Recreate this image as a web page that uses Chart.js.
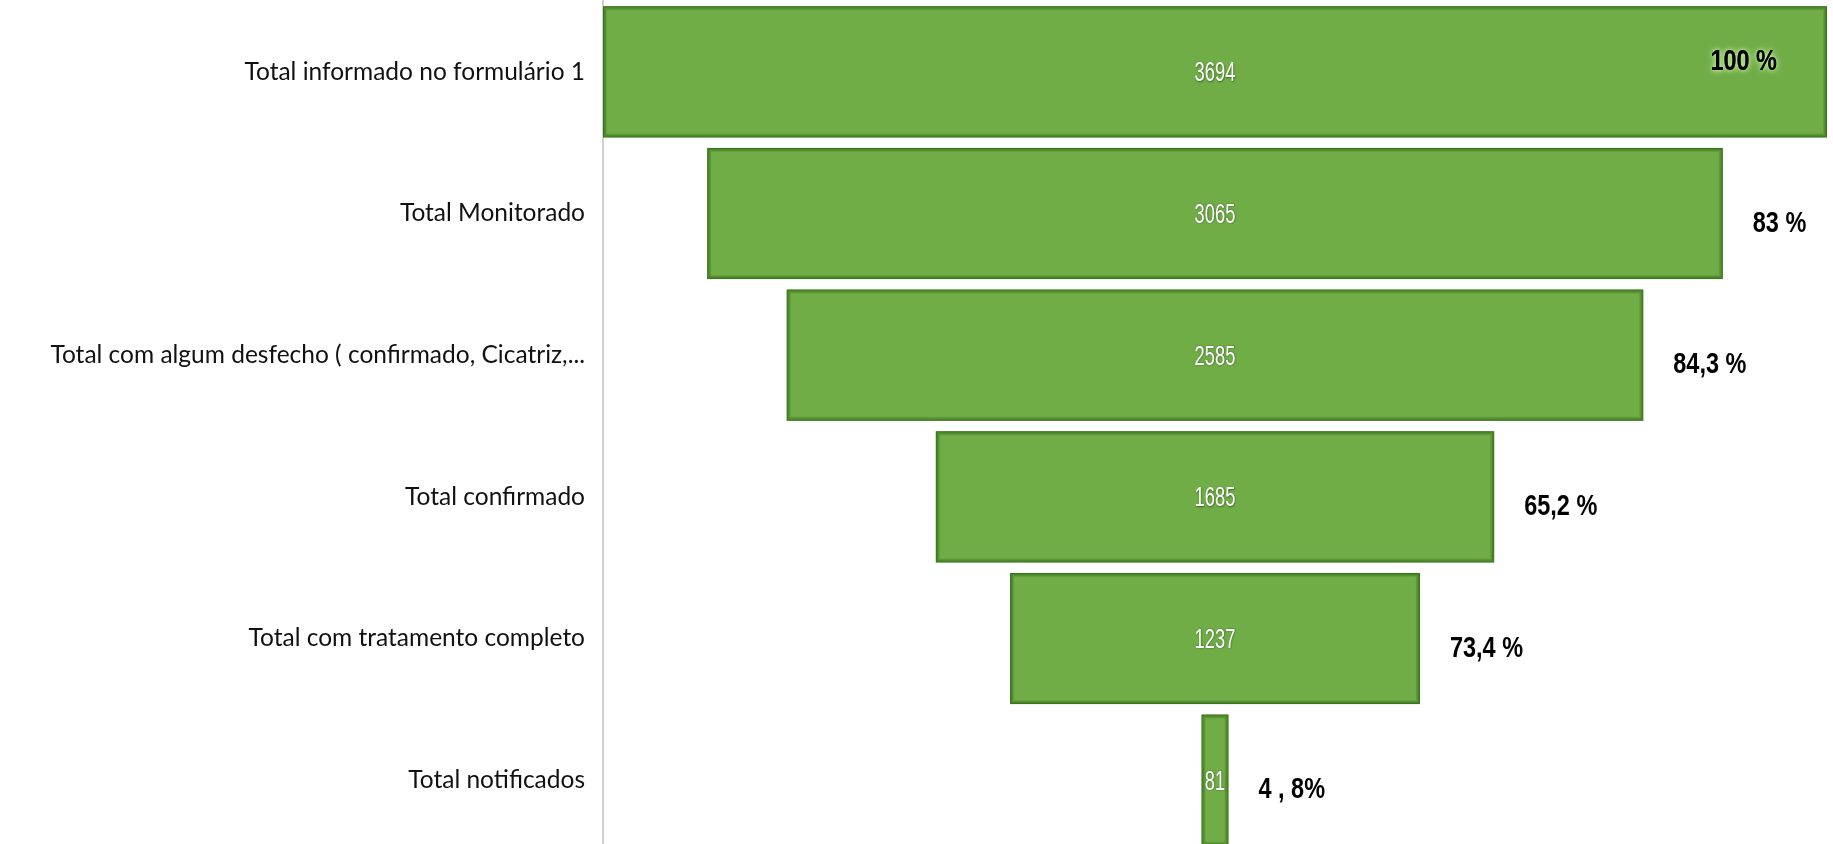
<!DOCTYPE html>
<html><head><meta charset="utf-8">
<script src="https://cdn.jsdelivr.net/npm/chart.js@4.4.1/dist/chart.umd.min.js"></script>
<style>
html,body{margin:0;padding:0;background:#fff;overflow:hidden;width:1833px;height:844px}
#wrap{position:relative;width:1833px;height:851px}
canvas{display:block}
</style></head>
<body><div id="wrap"><canvas id="c" width="1833" height="851"></canvas></div>
<script>
const categories = [
  "Total informado no formulário 1",
  "Total Monitorado",
  "Total com algum desfecho ( confirmado, Cicatriz,...",
  "Total confirmado",
  "Total com tratamento completo",
  "Total notificados"
];
const values = [3694, 3065, 2585, 1685, 1237, 81];
const percentLabels = ["100 %", "83 %", "84,3 %", "65,2 %", "73,4 %", "4 , 8%"];

const maxValue = Math.max(...values);
const ranges = values.map(v => [(maxValue - v) / 2, (maxValue + v) / 2]);

function condensedText(ctx, text, x, y, sx, align) {
  ctx.save();
  ctx.translate(x, y);
  ctx.scale(sx, 1);
  ctx.textAlign = align;
  ctx.fillText(text, 0, 0);
  ctx.restore();
}

const funnelDecor = {
  id: 'funnelDecor',
  afterDatasetsDraw(chart) {
    const ctx = chart.ctx;
    const meta = chart.getDatasetMeta(0);
    meta.data.forEach((el, i) => {
      const p = el.getProps(['x', 'y', 'base', 'height'], true);
      const l = Math.min(p.x, p.base), r = Math.max(p.x, p.base);
      const t = p.y - p.height / 2, b = p.y + p.height / 2;
      // inner bevel / shadow edges
      ctx.save();
      for (let k = 0; k < 4; k++) {
        ctx.strokeStyle = `rgba(45,100,20,${0.8 - k * 0.2})`;
        ctx.lineWidth = 1;
        ctx.strokeRect(l + k + 0.5, t + k + 0.5, r - l - 2 * k - 1, b - t - 2 * k - 1);
      }
      ctx.restore();

      // value label
      ctx.save();
      ctx.fillStyle = '#ffffff';
      ctx.font = '27px "Liberation Sans", Arial, sans-serif';
      ctx.textBaseline = 'middle';
      ctx.shadowColor = 'rgba(0,0,0,0.45)';
      ctx.shadowBlur = 2;
      ctx.shadowOffsetX = 0.5;
      ctx.shadowOffsetY = 0.5;
      condensedText(ctx, String(values[i]), (l + r) / 2, p.y + 2, 0.68, 'center');
      ctx.restore();

      // percent label
      ctx.save();
      ctx.fillStyle = '#000000';
      ctx.font = 'bold 29px "Liberation Sans", Arial, sans-serif';
      ctx.textBaseline = 'middle';
      const sx = 0.81;
      const w = ctx.measureText(percentLabels[i]).width * sx;
      const gap = 30;
      if (r + gap + w > chart.width) {
        ctx.shadowColor = 'rgba(200,240,170,0.95)';
        ctx.shadowBlur = 7;
        condensedText(ctx, percentLabels[i], r - 50, p.y - 10, sx, 'right');
        ctx.shadowBlur = 4;
        condensedText(ctx, percentLabels[i], r - 50, p.y - 10, sx, 'right');
      } else {
        condensedText(ctx, percentLabels[i], r + gap, p.y + 10, sx, 'left');
      }
      ctx.restore();
    });
  }
};

new Chart(document.getElementById('c'), {
  type: 'bar',
  data: {
    labels: categories,
    datasets: [{
      data: ranges,
      backgroundColor: '#70ad47',
      borderWidth: 0,
      barPercentage: 0.926,
      categoryPercentage: 1.0
    }]
  },
  options: {
    indexAxis: 'y',
    responsive: false,
    animation: false,
    layout: { padding: { left: 0, right: 6, top: 1, bottom: 0 } },
    plugins: { legend: { display: false }, tooltip: { enabled: false } },
    scales: {
      x: { display: false, min: 0, max: maxValue },
      y: {
        grid: { display: false },
        border: { display: true, color: '#d0d0d0', width: 2 },
        ticks: {
          padding: 10,
          color: '#111111',
          font: { family: 'Lato, "Liberation Sans", Arial, sans-serif', size: 24.5 }
        },
        afterFit(scale) {
          scale.width = 603;
          scale.paddingTop = 0;
          scale.paddingBottom = 0;
        }
      }
    }
  },
  plugins: [funnelDecor]
});
</script>
</body></html>
